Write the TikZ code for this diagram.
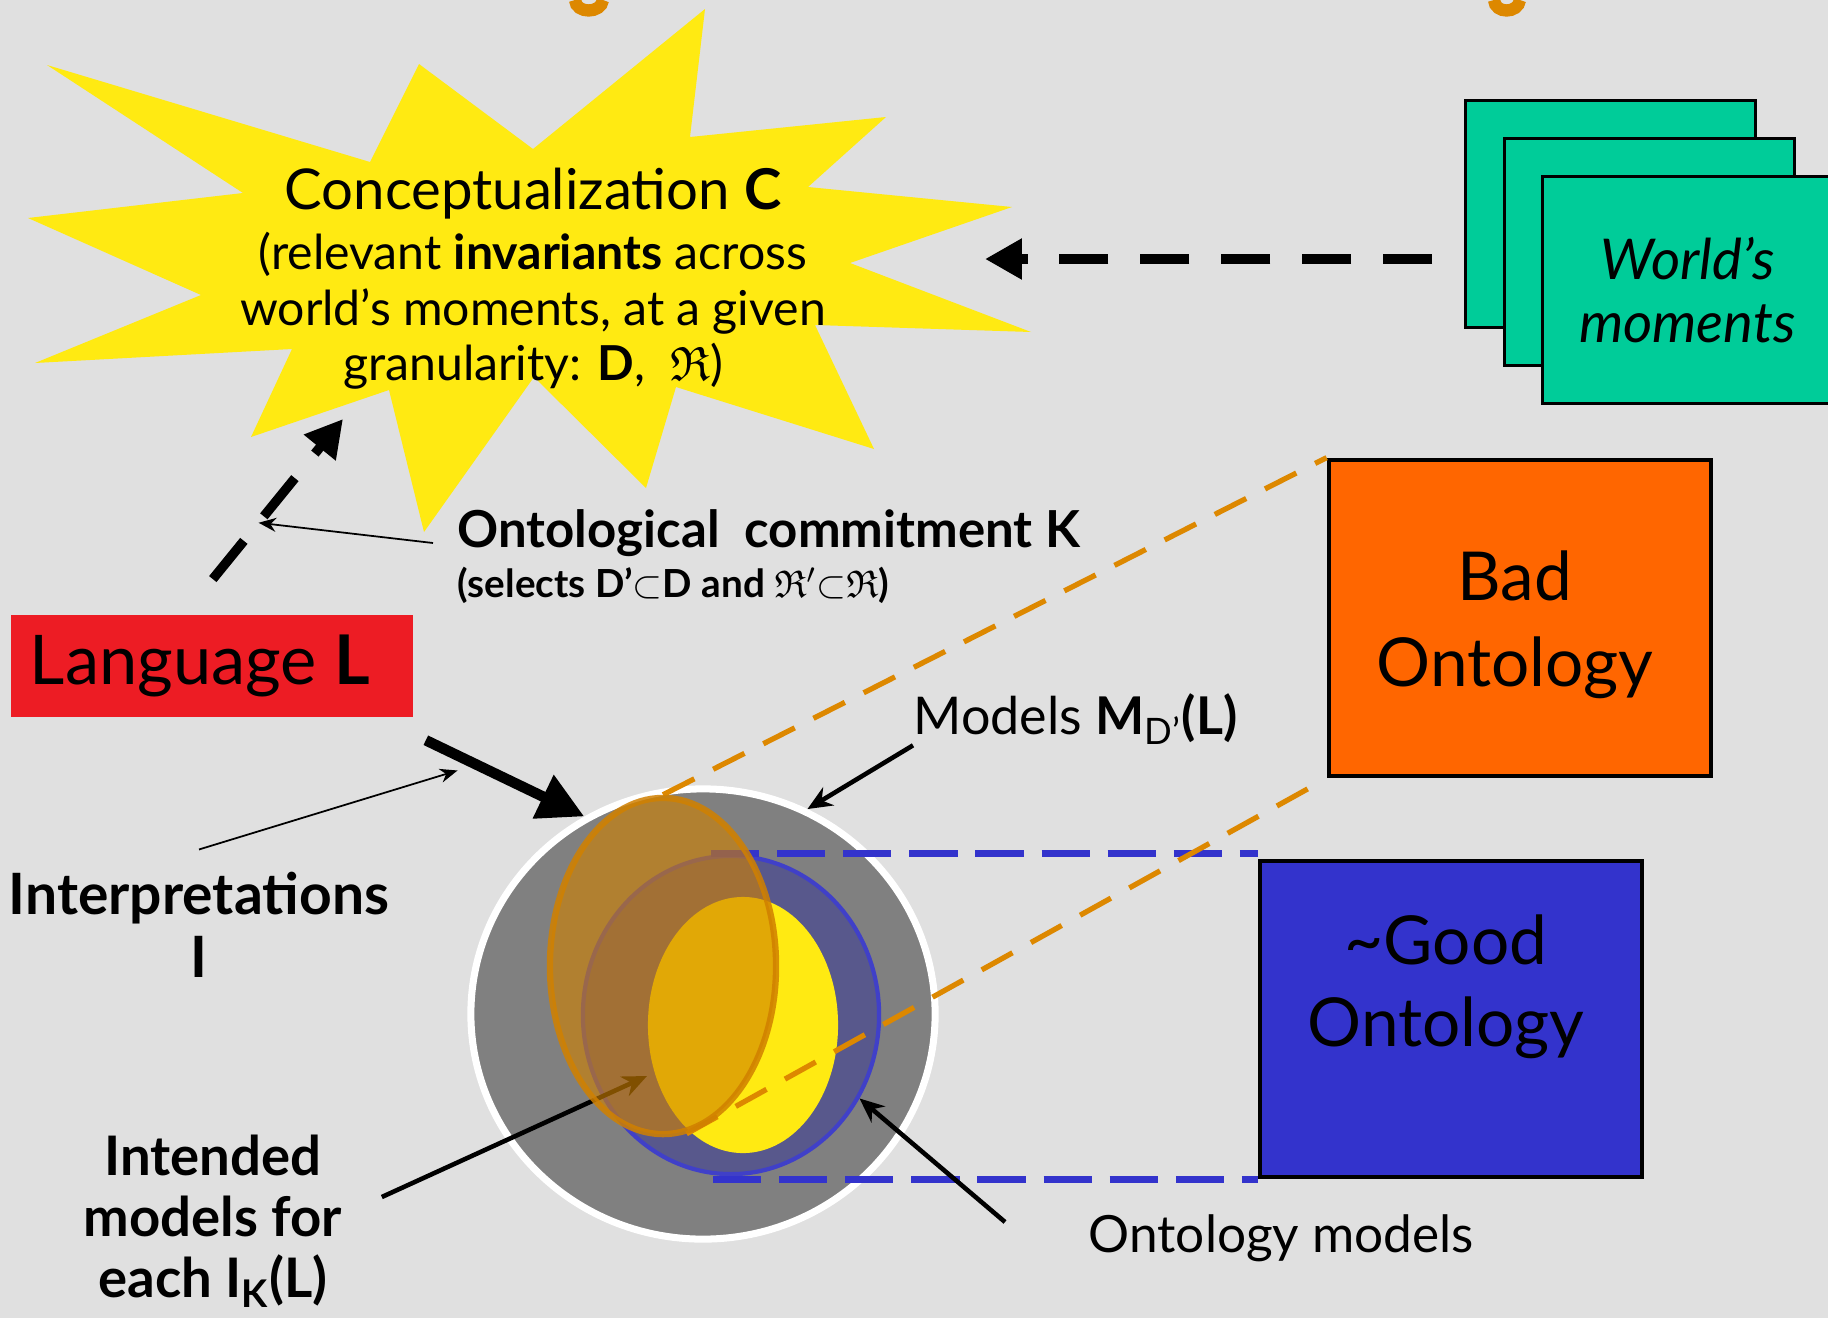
\documentclass[tikz,border=0pt]{standalone}
\usepackage{fontspec}
\usepackage{amssymb}
\setmainfont{Lato}
\usetikzlibrary{arrows.meta,shapes.geometric,positioning,calc}
\definecolor{slidegray}{RGB}{224,224,224}
\definecolor{burstyellow}{RGB}{255,234,18}
\definecolor{wmgreen}{RGB}{0,204,153}
\definecolor{langred}{RGB}{237,28,36}
\definecolor{badorange}{RGB}{255,102,0}
\definecolor{goodblue}{RGB}{51,51,204}
\definecolor{domgray}{RGB}{128,128,128}
\definecolor{omodfill}{RGB}{88,88,140}
\definecolor{omodline}{RGB}{64,64,200}
\definecolor{bmodorange}{RGB}{208,128,0}
\definecolor{dashorange}{RGB}{221,136,0}
\pgfdeclarelayer{front}
\pgfsetlayers{main,front}

\begin{document}
\begin{tikzpicture}[x=0.01cm, y=-0.01cm,
  every node/.style={inner sep=0pt},
  txt/.style={font=\fontsize{#1}{#1}\selectfont},
  bigdash/.style={line width=2.7pt, dash pattern=on 14pt off 9pt, -{Triangle[length=10.5pt,width=11pt]}},
  fatarrow/.style={line width=3pt, -{Triangle[length=13pt,width=13pt]}},
  midarrow/.style={line width=1.3pt, -{Stealth[length=7pt,width=6pt]}},
  thinarrow/.style={line width=0.5pt, -{Stealth[length=5pt,width=4pt]}},
  card/.style={draw=black, line width=0.8pt, fill=wmgreen, minimum width=2.9cm, minimum height=2.27cm},
  onto/.style={draw=black, line width=1.3pt, minimum width=3.82cm, minimum height=3.16cm},
  orangedash/.style={dashorange, line width=1.5pt, dash pattern=on 10pt off 6pt},
  bluedash/.style={goodblue, line width=2pt, dash pattern=on 13.7pt off 5.1pt}]
  \clip (0,0) rectangle (1828,1318);
  \fill[slidegray] (0,0) rectangle (1828,1318);

  % what is left of the slide title
  \draw[dashorange, line width=3.5pt] (575,0) .. controls (576,14) and (601,14) .. (603,0);
  \draw[dashorange, line width=3.5pt] (1494,0) .. controls (1495,14) and (1518,14) .. (1520,0);

  % conceptualization
  \fill[burstyellow] (47,65) -- (370,162) -- (419,64) -- (533,149) -- (705,9) -- (690,137)
    -- (886,117) -- (808,187) -- (1012,207) -- (850,263) -- (1031,332) -- (815,325)
    -- (874,449) -- (676,387) -- (646,488) -- (534,377) -- (424,532) -- (389,390)
    -- (251,437) -- (292,349) -- (35,363) -- (201,295) -- (28,218) -- (243,193) -- cycle;
  \node[txt=16pt] (concept) at (533,194) {Conceptualization \textbf{C}};
  \node[align=center, font=\fontsize{13.7pt}{15.8pt}\selectfont] (invar) at (533,311)
    {(relevant \textbf{invariants} across\\world's moments, at a given\\granularity: \textbf{D}, \ $\mathfrak{R}$)};
  \coordinate (burstE) at (985,259);
  \coordinate (burstS) at (343,419);

  % world's moments
  \node[card, anchor=north west] (card1) at (1464,99) {};
  \node[card, anchor=north west] (card2) at (1503,137) {};
  \node[card, anchor=north west, align=center, font=\fontsize{16pt}{18pt}\selectfont\itshape] (card3) at (1541,175) {World's\\moments};
  \draw[bigdash] ($(card1.west |- burstE)+(-32,0)$) -- (burstE);

  % language
  \node[fill=langred, minimum width=4.02cm, minimum height=1.01cm, txt=19.5pt] (lang) at (212,666) {Language \textbf{L}\hspace*{0.24cm}};
  \draw[bigdash, shorten <=0.46cm] ($(lang.north west)!0.43!(lang.north east)$) -- coordinate[pos=0.47] (kmid) (burstS);

  \node[anchor=west, font=\fontsize{14.5pt}{17pt}\selectfont\bfseries] (commit) at (457,533) {Ontological\ \ commitment K};
  \node[anchor=west, font=\fontsize{11pt}{13pt}\selectfont\bfseries] (selects) at ($(commit.west)+(0,52)$)
    {(selects D'$\subset$D and $\mathfrak{R}'$$\subset$$\mathfrak{R}$)};
  \draw[thinarrow] ($(commit.west)+(-24,10)$) -- (kmid);

  % domain and models
  \node[ellipse, fill=domgray, draw=white, line width=2pt, minimum width=4.64cm, minimum height=4.5cm] (dom) at (703,1014) {};
  \node[ellipse, fill=omodfill, draw=omodline, line width=1.2pt, minimum width=2.96cm, minimum height=3.18cm] (omod) at (731,1015) {};
  \node[ellipse, fill=burstyellow, minimum width=1.9cm, minimum height=2.56cm] (imod) at (743,1025) {};

  \node[onto, fill=badorange] (bad) at (1520,618) {};
  \node[align=center, font=\fontsize{19.2pt}{24.5pt}\selectfont] (badtxt) at (1515,625) {Bad\\Ontology};
  \node[onto, fill=goodblue] (good) at (1451,1019) {};
  \node[align=center, font=\fontsize{19.2pt}{23.3pt}\selectfont] (goodtxt) at (1446,987) {\textasciitilde Good\\Ontology};

  \draw[bluedash] ($(omod.north)+(-20,0)$) -- (omod.north -| good.west);
  \draw[bluedash] ($(omod.south |- good.south west)+(-18,0)$) -- (good.south west);

  \begin{pgfonlayer}{front}
    \node[ellipse, fill=bmodorange, fill opacity=0.62, draw=bmodorange, draw opacity=0.85, line width=1.8pt,
      minimum width=2.26cm, minimum height=3.36cm] (bmod) at (663,966) {};
  \end{pgfonlayer}
  \draw[orangedash] (bmod.north) -- (bad.north west);
  \draw[orangedash, shorten >=0.2cm] (bmod.-82) -- (bad.south west);

  \draw[fatarrow] ($(lang.south east)+(12,23)$) -- coordinate[pos=0.2] (fatmid) (dom.121);

  % labels
  \node[align=center, font=\fontsize{16.2pt}{18pt}\selectfont\bfseries] (interp) at (199,925) {Interpretations\\I};
  \draw[thinarrow] ($(interp.north)+(0,-22)$) -- ($(fatmid)+(0,15)$);

  \node[anchor=west, txt=14.8pt] (mlabel) at (913,719) {Models \textbf{M}\textsubscript{D'}\textbf{(L)}};
  \draw[midarrow] (mlabel.south west) -- (dom.63);

  \node[anchor=west, txt=14.6pt] (omlabel) at (1088,1238) {Ontology models};
  \draw[midarrow] ($(omlabel.west)+(-83,-16)$) -- (omod.-33);

  \node[align=center, font=\fontsize{15.5pt}{17.3pt}\selectfont\bfseries] (intend) at (213,1221)
    {Intended\\models for\\each I\textsubscript{K}(L)};
  \coordinate (itip) at (647,1076);
  \draw[midarrow] ($(intend.east)+(39,-24)$) -- (itip);
\end{tikzpicture}
\end{document}
